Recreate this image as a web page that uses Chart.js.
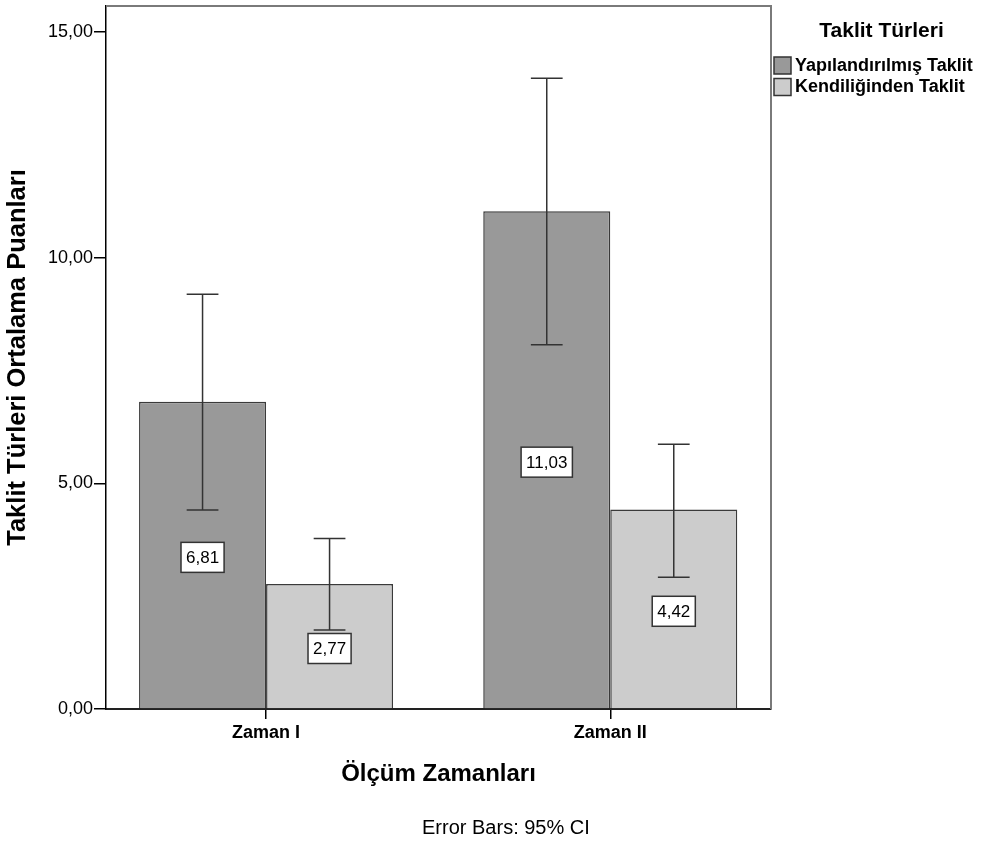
<!DOCTYPE html>
<html>
<head>
<meta charset="utf-8">
<script src="https://cdn.jsdelivr.net/npm/chart.js@4.4.1/dist/chart.umd.min.js"></script>
<style>
  html, body { margin: 0; padding: 0; background: #ffffff; }
  canvas { display: block; }
</style>
</head>
<body>
<canvas id="chart" width="992" height="842"></canvas>
<script>
// Measurement times (x categories) and imitation types (series)
const categories = ['Zaman I', 'Zaman II'];
const seriesNames = ['Yapılandırılmış Taklit', 'Kendiliğinden Taklit'];

// Mean scores per time point
const structuredMeans = [6.81, 11.03];
const spontaneousMeans = [2.77, 4.42];

// 95% confidence interval bounds
const structuredLow = [4.41, 8.07];
const structuredHigh = [9.19, 13.98];
const spontaneousLow = [1.75, 2.92];
const spontaneousHigh = [3.78, 5.87];

// Value axis ticks
const yTicks = [0, 5, 10, 15];

const FONT = "'Liberation Sans', Arial, sans-serif";
const fmt = v => v.toFixed(2).replace('.', ',');

function points(values) {
  return values.map((v, i) => ({ x: i + 1, y: v }));
}

// Error bars and boxed value labels drawn on top of the bars
const barAnnotations = {
  id: 'barAnnotations',
  afterDatasetsDraw(chart) {
    const ctx = chart.ctx;
    const yScale = chart.scales.y;
    ctx.save();
    chart.data.datasets.forEach((ds, di) => {
      const meta = chart.getDatasetMeta(di);
      meta.data.forEach((bar, i) => {
        const lo = yScale.getPixelForValue(ds.ciLow[i]);
        const hi = yScale.getPixelForValue(ds.ciHigh[i]);
        const half = bar.width * 0.125;
        ctx.strokeStyle = '#333333';
        ctx.lineWidth = 1.5;
        ctx.beginPath();
        ctx.moveTo(bar.x, lo); ctx.lineTo(bar.x, hi);
        ctx.moveTo(bar.x - half, hi); ctx.lineTo(bar.x + half, hi);
        ctx.moveTo(bar.x - half, lo); ctx.lineTo(bar.x + half, lo);
        ctx.stroke();
      });
    });
    chart.data.datasets.forEach((ds, di) => {
      const meta = chart.getDatasetMeta(di);
      meta.data.forEach((bar, i) => {
        const v = ds.data[i].y;
        const text = fmt(v);
        const cy = yScale.getPixelForValue(v / 2) + 2;
        ctx.font = '17px ' + FONT;
        const w = ctx.measureText(text).width + 10;
        const h = 30;
        ctx.fillStyle = '#ffffff';
        ctx.fillRect(bar.x - w / 2, cy - h / 2, w, h);
        ctx.strokeStyle = '#333333';
        ctx.lineWidth = 1.5;
        ctx.strokeRect(bar.x - w / 2, cy - h / 2, w, h);
        ctx.fillStyle = '#000000';
        ctx.textAlign = 'center';
        ctx.textBaseline = 'middle';
        ctx.fillText(text, bar.x, cy + 1);
      });
    });
    ctx.restore();
  }
};

// Plot frame (top and right edges), legend and footnote
const frameAndLegend = {
  id: 'frameAndLegend',
  afterDraw(chart) {
    const ctx = chart.ctx;
    const a = chart.chartArea;
    ctx.save();
    ctx.strokeStyle = '#7a7a7a';
    ctx.lineWidth = 2;
    ctx.beginPath();
    ctx.moveTo(a.left, a.top);
    ctx.lineTo(a.right, a.top);
    ctx.lineTo(a.right, a.bottom);
    ctx.stroke();

    // Legend
    const lx = a.right + 3;
    const centerX = (a.right + chart.width) / 2;
    ctx.fillStyle = '#000000';
    ctx.textAlign = 'center';
    ctx.textBaseline = 'middle';
    ctx.font = 'bold 21px ' + FONT;
    ctx.fillText('Taklit Türleri', centerX, a.top + 25);
    chart.data.datasets.forEach((ds, i) => {
      const y = a.top + 51 + i * 21.5;
      ctx.fillStyle = ds.backgroundColor;
      ctx.fillRect(lx, y, 17, 17);
      ctx.strokeStyle = '#333333';
      ctx.lineWidth = 1.5;
      ctx.strokeRect(lx, y, 17, 17);
      ctx.fillStyle = '#000000';
      ctx.textAlign = 'left';
      ctx.font = 'bold 18px ' + FONT;
      ctx.fillText(ds.label, lx + 21, y + 9);
    });

    // Footnote
    ctx.font = '20px ' + FONT;
    ctx.textAlign = 'center';
    ctx.fillStyle = '#000000';
    ctx.fillText('Error Bars: 95% CI', chart.width * 0.51, chart.height - 14);
    ctx.restore();
  }
};

new Chart(document.getElementById('chart'), {
  type: 'bar',
  data: {
    datasets: [
      {
        label: seriesNames[0],
        data: points(structuredMeans),
        ciLow: structuredLow,
        ciHigh: structuredHigh,
        backgroundColor: '#999999',
        borderColor: '#3a3a3a',
        borderWidth: 1.5
      },
      {
        label: seriesNames[1],
        data: points(spontaneousMeans),
        ciLow: spontaneousLow,
        ciHigh: spontaneousHigh,
        backgroundColor: '#cccccc',
        borderColor: '#3a3a3a',
        borderWidth: 1.5
      }
    ]
  },
  options: {
    responsive: false,
    animation: false,
    categoryPercentage: 0.738,
    barPercentage: 1.0,
    layout: { padding: { left: 0, right: 221, top: 6, bottom: 36 } },
    plugins: {
      legend: { display: false },
      tooltip: { enabled: false }
    },
    scales: {
      x: {
        type: 'linear',
        min: 0.535,
        max: 2.467,
        offset: false,
        afterFit(s) { s.height = 97; s.paddingLeft = 0; s.paddingRight = 0; },
        afterBuildTicks(s) { s.ticks = categories.map((c, i) => ({ value: i + 1 })); },
        ticks: {
          callback: v => categories[Math.round(v) - 1] || '',
          color: '#000000',
          font: { family: FONT, size: 18, weight: 'bold' },
          padding: 3,
          maxRotation: 0,
          autoSkip: false
        },
        grid: { display: true, offset: false, drawOnChartArea: false, drawTicks: true, tickLength: 10, color: '#000000', lineWidth: 1.5 },
        border: { display: true, color: '#222222', width: 2 },
        title: {
          display: true,
          text: 'Ölçüm Zamanları',
          color: '#000000',
          font: { family: FONT, size: 24, weight: 'bold' },
          padding: { top: 0, bottom: 17 }
        }
      },
      y: {
        min: 0,
        max: 15.58,
        afterFit(s) { s.width = 106; s.paddingTop = 0; s.paddingBottom = 0; },
        afterBuildTicks(s) { s.ticks = yTicks.map(v => ({ value: v })); },
        ticks: {
          callback: v => fmt(v),
          color: '#000000',
          font: { family: FONT, size: 18 },
          padding: 1
        },
        grid: { display: true, drawOnChartArea: false, drawTicks: true, tickLength: 12, color: '#000000', lineWidth: 1.5 },
        border: { display: true, color: '#000000', width: 1.5 },
        title: {
          display: true,
          text: 'Taklit Türleri Ortalama Puanları',
          color: '#000000',
          font: { family: FONT, size: 25.5, weight: 'bold' },
          padding: { top: 3, bottom: 0 }
        }
      }
    }
  },
  plugins: [barAnnotations, frameAndLegend]
});
</script>
</body>
</html>
